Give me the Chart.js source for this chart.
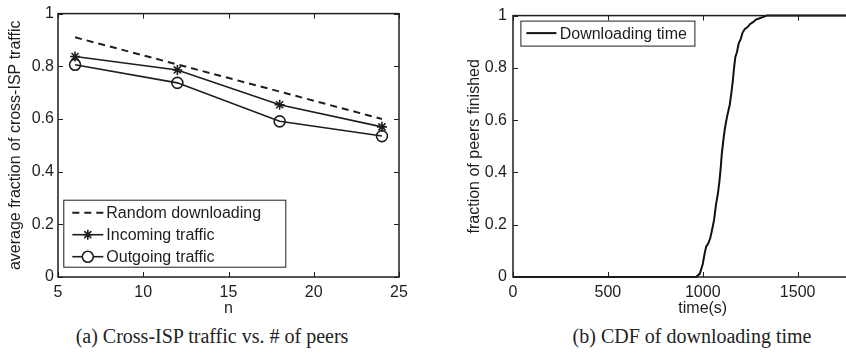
<!DOCTYPE html>
<html>
<head>
<meta charset="utf-8">
<title>Cross-ISP traffic and CDF of downloading time</title>
<script src="https://cdn.jsdelivr.net/npm/chart.js@4/dist/chart.umd.min.js"></script>
<style>
  html, body { margin: 0; padding: 0; background: #fff; overflow: hidden; width: 846px; height: 356px; }
  canvas { position: absolute; top: 0; }
  #leftChart { left: 0; }
  #rightChart { left: 420px; }
  .caption { position: absolute; top: 324px; line-height: 24px; font-family: "Liberation Serif", "DejaVu Serif", serif; font-size: 20px; color: #222; text-align: center; white-space: nowrap; }
</style>
</head>
<body>
<canvas id="leftChart" width="420" height="320"></canvas>
<canvas id="rightChart" width="480" height="320"></canvas>
<div class="caption" style="left:12px; width:400px;">(a) Cross-ISP traffic vs. # of peers</div>
<div class="caption" style="left:492px; width:400px;">(b) CDF of downloading time</div>

<script>
  // (a) cross-ISP traffic vs number of peers
  const peersN = [6, 12, 18, 24];
  const randomDownloading = [0.91, 0.807, 0.704, 0.60];
  const incomingTraffic = [0.837, 0.786, 0.654, 0.570];
  const outgoingTraffic = [0.806, 0.737, 0.591, 0.535];

  // (b) CDF of downloading time
  const downloadTime = [0, 965, 985, 1000, 1010, 1018, 1030, 1040, 1052, 1060, 1070, 1080, 1088, 1095, 1100,
    1108, 1115, 1122, 1130, 1142, 1150, 1158, 1165, 1172, 1180, 1190, 1200, 1210, 1222, 1235, 1250, 1265,
    1280, 1300, 1320, 1337, 2000];
  const fractionFinished = [0, 0, 0.013, 0.05, 0.09, 0.116, 0.13, 0.15, 0.19, 0.22, 0.278, 0.32, 0.367, 0.42, 0.468,
    0.52, 0.56, 0.59, 0.62, 0.658, 0.70, 0.747, 0.80, 0.842, 0.86, 0.895, 0.91, 0.935, 0.949, 0.955, 0.968, 0.975,
    0.985, 0.99, 0.995, 1, 1];

  const ink = '#1e1e1e';
  const sans = '"Liberation Sans", Arial, sans-serif';
  Chart.defaults.font.family = sans;
  Chart.defaults.font.size = 16;
  Chart.defaults.color = ink;

  const toPoints = (xs, ys) => xs.map((x, i) => ({x: x, y: ys[i]}));
  // matlab prints 0 and 1, not 0.0 / 1.0
  const plainTick = v => String(parseFloat(v.toFixed(2)));

  // matlab style box with inward ticks on all sides
  const frameTicks = {
    id: 'frameTicks',
    afterDatasetsDraw(chart) {
      const {ctx, chartArea: a, scales: {x, y}} = chart;
      ctx.save();
      ctx.strokeStyle = ink;
      ctx.lineWidth = 1;
      ctx.beginPath();
      x.ticks.forEach(t => {
        const px = Math.round(x.getPixelForValue(t.value)) + 0.5;
        ctx.moveTo(px, a.bottom); ctx.lineTo(px, a.bottom - 5);
        ctx.moveTo(px, a.top); ctx.lineTo(px, a.top + 5);
      });
      y.ticks.forEach(t => {
        const py = Math.round(y.getPixelForValue(t.value)) + 0.5;
        ctx.moveTo(a.left, py); ctx.lineTo(a.left + 5, py);
        ctx.moveTo(a.right, py); ctx.lineTo(a.right - 5, py);
      });
      ctx.stroke();
      ctx.lineWidth = 1.5;
      ctx.strokeRect(a.left, a.top, a.right - a.left, a.bottom - a.top);
      ctx.restore();
    }
  };

  // legend box drawn inside the plot area
  const boxLegend = {
    id: 'boxLegend',
    afterDraw(chart, args, o) {
      const {ctx, chartArea: a} = chart;
      const bx = a.left + o.dx;
      const by = o.fromBottom ? a.bottom - o.dy - o.h : a.top + o.dy;
      ctx.save();
      ctx.fillStyle = '#fff';
      ctx.fillRect(bx, by, o.w, o.h);
      ctx.strokeStyle = ink;
      ctx.lineWidth = 1;
      ctx.strokeRect(bx + 0.5, by + 0.5, o.w, o.h);
      chart.data.datasets.forEach((ds, i) => {
        const cy = by + o.firstRow + i * o.rowGap;
        ctx.strokeStyle = ds.borderColor;
        ctx.lineWidth = ds.borderWidth;
        ctx.setLineDash(ds.borderDash || []);
        ctx.beginPath();
        ctx.moveTo(bx + o.lineX0, cy);
        ctx.lineTo(bx + o.lineX1, cy);
        ctx.stroke();
        ctx.setLineDash([]);
        if (ds.pointRadius > 0) {
          ctx.fillStyle = '#fff';
          ctx.lineWidth = ds.pointBorderWidth;
          Chart.helpers.drawPoint(ctx, {pointStyle: ds.pointStyle, radius: ds.pointRadius, borderWidth: ds.pointBorderWidth},
            bx + (o.lineX0 + o.lineX1) / 2, cy);
        }
        ctx.fillStyle = ink;
        ctx.font = '16px ' + sans;
        ctx.textBaseline = 'middle';
        ctx.fillText(ds.label, bx + o.textX, cy + 1);
      });
      ctx.restore();
    }
  };

  new Chart(document.getElementById('leftChart'), {
    type: 'line',
    data: {
      datasets: [{
        label: 'Random downloading',
        data: toPoints(peersN, randomDownloading),
        borderColor: ink, borderWidth: 2, borderDash: [7, 5],
        pointRadius: 0
      }, {
        label: 'Incoming traffic',
        data: toPoints(peersN, incomingTraffic),
        borderColor: ink, borderWidth: 1.6,
        pointStyle: 'star', pointRadius: 5, pointBorderWidth: 1.6,
        pointBorderColor: ink, pointBackgroundColor: '#fff'
      }, {
        label: 'Outgoing traffic',
        data: toPoints(peersN, outgoingTraffic),
        borderColor: ink, borderWidth: 1.6,
        pointStyle: 'circle', pointRadius: 5.5, pointBorderWidth: 1.6,
        pointBorderColor: ink, pointBackgroundColor: 'rgba(255,255,255,0)'
      }]
    },
    options: {
      responsive: false,
      animation: false,
      layout: {padding: {left: 4, right: 21, top: 13, bottom: 2}},
      plugins: {
        legend: {display: false},
        tooltip: {enabled: false},
        boxLegend: {dx: 5.3, dy: 10.3, fromBottom: true, w: 222, h: 67, firstRow: 13, rowGap: 22, lineX0: 9, lineX1: 40, textX: 43}
      },
      scales: {
        x: {
          type: 'linear', min: 5, max: 25,
          ticks: {stepSize: 5, padding: 6, maxRotation: 0, callback: plainTick},
          grid: {display: false, drawTicks: false},
          border: {display: false},
          title: {display: true, text: 'n', padding: 0, font: {size: 16}},
          afterFit: s => { s.height = 41; s.paddingLeft = 0; s.paddingRight = 0; }
        },
        y: {
          min: 0, max: 1,
          ticks: {stepSize: 0.2, padding: 4, callback: plainTick},
          grid: {display: false, drawTicks: false},
          border: {display: false},
          title: {display: true, text: 'average fraction of cross-ISP traffic', padding: 2, font: {size: 16}},
          afterFit: s => { s.width = 54; }
        }
      }
    },
    plugins: [frameTicks, boxLegend]
  });

  new Chart(document.getElementById('rightChart'), {
    type: 'line',
    data: {
      datasets: [{
        label: 'Downloading time',
        data: toPoints(downloadTime, fractionFinished),
        borderColor: '#111', borderWidth: 2,
        pointRadius: 0, clip: 4
      }]
    },
    options: {
      responsive: false,
      animation: false,
      layout: {padding: {left: 41, right: 7.5, top: 13, bottom: 2}},
      plugins: {
        legend: {display: false},
        tooltip: {enabled: false},
        boxLegend: {dx: 7.4, dy: 5, fromBottom: false, w: 174, h: 25, firstRow: 12.5, rowGap: 22, lineX0: 6, lineX1: 36, textX: 39.3}
      },
      scales: {
        x: {
          type: 'linear', min: 0, max: 2000,
          ticks: {stepSize: 500, padding: 6, maxRotation: 0, callback: plainTick},
          grid: {display: false, drawTicks: false},
          border: {display: false},
          title: {display: true, text: 'time(s)', padding: 0, font: {size: 16}},
          afterFit: s => { s.height = 41; s.paddingLeft = 0; s.paddingRight = 0; }
        },
        y: {
          min: 0, max: 1,
          ticks: {stepSize: 0.2, padding: 6, callback: plainTick},
          grid: {display: false, drawTicks: false},
          border: {display: false},
          title: {display: true, text: 'fraction of peers finished', padding: 4, font: {size: 16}},
          afterFit: s => { s.width = 52; }
        }
      }
    },
    plugins: [frameTicks, boxLegend]
  });
</script>
</body>
</html>
